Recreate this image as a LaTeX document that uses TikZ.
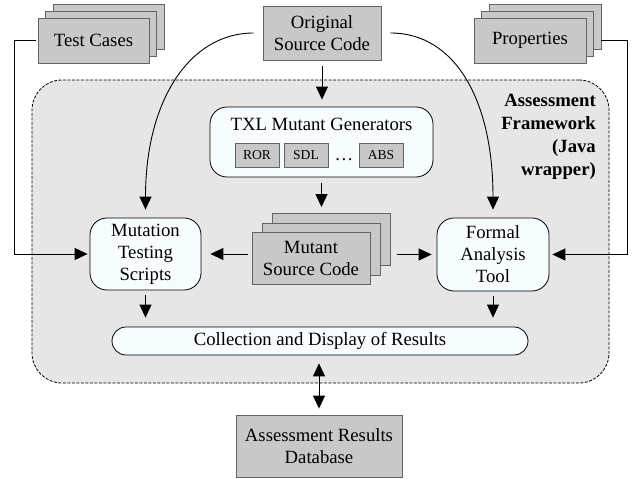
\documentclass[tikz,border=0pt]{standalone}
\usepackage{fontspec}
\setmainfont{Liberation Serif}
\usetikzlibrary{arrows.meta}
\usetikzlibrary{positioning}
\definecolor{boxgray}{RGB}{200,200,200}
\definecolor{boxline}{RGB}{100,100,100}
\definecolor{framegray}{RGB}{230,230,230}
\definecolor{procwhite}{RGB}{246,252,255}

\begin{document}
\begin{tikzpicture}[x=1pt,y=-1pt,
  font=\fontsize{18.7}{22}\selectfont,
  graybox/.style={rectangle,draw=boxline,fill=boxgray,line width=0.9pt,align=center,inner sep=0pt},
  procbox/.style={rectangle,rounded corners=17pt,draw=black,fill=procwhite,line width=0.8pt,align=center,inner sep=0pt},
  opbox/.style={graybox,font=\fontsize{13.6}{16}\selectfont,minimum width=44pt,minimum height=24pt},
  framebox/.style={rectangle,rounded corners=30pt,draw=black,fill=framegray,dash pattern=on 3pt off 1.5pt,line width=0.8pt},
  conn/.style={draw=black,line width=0.9pt,-{Triangle[width=12pt,length=13pt]}},
]
\useasboundingbox (0,0) rectangle (641,479);

% framework
\node[framebox,minimum width=577pt,minimum height=303pt] (fw) at (320.5,231.5) {};
\node[font=\fontsize{18.7}{23}\selectfont\bfseries,align=right,anchor=north east,inner sep=0pt] (fwlabel) at (596,93.5) {Assessment\\Framework\\(Java\\wrapper)};

% inputs
\node[graybox,minimum width=111pt,minimum height=45pt] (tc3) at (108.5,26.5) {};
\node[graybox,minimum width=111pt,minimum height=45pt] (tc2) at (101,33.5) {};
\node[graybox,minimum width=111pt,minimum height=45pt] (tc) at (93.5,40.5) {Test Cases};
\node[graybox,minimum width=118pt,minimum height=54pt] (orig) at (322,33) {Original\\Source Code};
\node[graybox,minimum width=112pt,minimum height=45pt] (pr3) at (545,26.5) {};
\node[graybox,minimum width=112pt,minimum height=45pt] (pr2) at (537.5,33.5) {};
\node[graybox,minimum width=112pt,minimum height=45pt] (pr) at (530,40.5) {Properties};

% mutant generators
\node[procbox,minimum width=223pt,minimum height=70pt] (txl) at (321.5,142) {};
\node (txltitle) at (321.5,124) {TXL Mutant Generators};
\node[opbox] (ror) at (257,155) {ROR};
\node[opbox] (sdl) at (306,155) {SDL};
\node (dots) at (344,160) {\dots};
\node[opbox] (abs) at (381,155) {ABS};

% mutants
\node[graybox,minimum width=118pt,minimum height=52pt] (mut3) at (331,239.5) {};
\node[graybox,minimum width=118pt,minimum height=52pt] (mut2) at (321,249) {};
\node[graybox,minimum width=118pt,minimum height=52pt] (mut) at (311,258) {Mutant\\Source Code};

% tools
\node[procbox,minimum width=111pt,minimum height=72pt] (mts) at (145.5,254) {Mutation\\Testing\\Scripts};
\node[procbox,minimum width=112pt,minimum height=73pt] (fat) at (493,254.5) {Formal\\Analysis\\Tool};
\node[procbox,rounded corners=14pt,minimum width=416pt,minimum height=28pt] (col) at (320,341) {Collection and Display of Results};
\node[graybox,minimum width=166pt,minimum height=62pt] (db) at (319,446) {Assessment Results\\Database};

% connectors
\coordinate (tcbend) at (14,40.5);
\coordinate (prbend) at (627,40.5);
\draw[conn,shorten <=2pt,shorten >=2pt] (tc.west) -- (tcbend) |- (mts.west);
\draw[conn,shorten >=3pt] (pr.east -| pr3.east) -- (prbend) |- (fat.east);
\draw[conn,shorten <=9pt,shorten >=8pt] (orig.west) .. controls (190,33) and (145.5,100) .. (mts.north);
\draw[conn,shorten <=9pt,shorten >=8pt] (orig.east) .. controls (455,33) and (493,100) .. (fat.north);
\draw[conn,shorten <=6pt,shorten >=7pt] (orig.south) -- (orig.south |- txl.north);
\draw[conn,shorten <=6pt,shorten >=6pt] (txl.south) -- (txl.south |- mut3.north);
\draw[conn,shorten <=4pt,shorten >=9pt] (mts.east -| mut.west) -- (mts.east);
\draw[conn,shorten <=7pt,shorten >=5pt] (fat.west -| mut3.east) -- (fat.west);
\draw[conn,shorten <=5pt,shorten >=9pt] (mts.south) -- (mts.south |- col.north);
\draw[conn,shorten <=5pt,shorten >=9pt] (fat.south) -- (fat.south |- col.north);
\draw[conn,{Triangle[width=12pt,length=13pt]}-{Triangle[width=12pt,length=13pt]},shorten <=8pt,shorten >=6pt] (db.north |- col.south) -- (db.north);

\end{tikzpicture}
\end{document}
